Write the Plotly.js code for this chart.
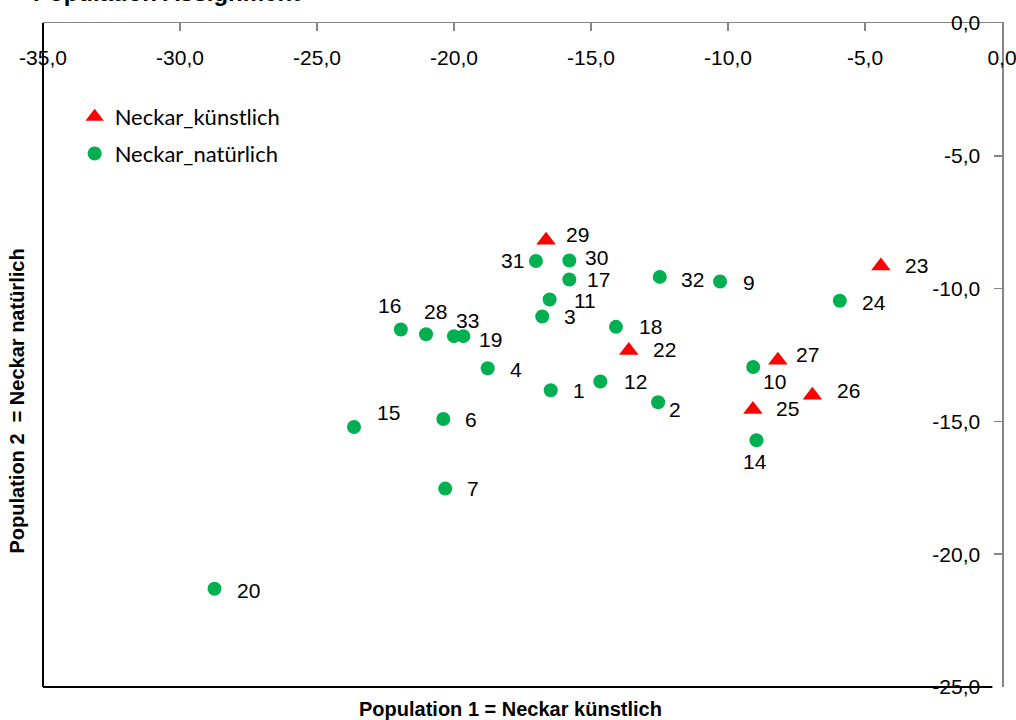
<!DOCTYPE html>
<html>
<head>
<meta charset="utf-8">
<script src="https://cdn.plot.ly/plotly-3.0.1.min.js"></script>
<style>html,body{margin:0;padding:0;background:#fff;}#chart{width:1016px;height:720px;}</style>
</head>
<body>
<div id="chart"></div>
<script>
// Series: Neckar_künstlich (red triangles)
const kuenstlichIds = [29, 22, 23, 27, 26, 25];
const kuenstlichX = [-16.64, -13.62, -4.42, -8.18, -6.92, -9.09];
const kuenstlichY = [-8.18, -12.33, -9.15, -12.70, -14.02, -14.55];

// Series: Neckar_natürlich (green circles)
const natuerlichIds = [1, 2, 3, 4, 6, 7, 9, 10, 11, 12, 14, 15, 16, 17, 18, 19, 20, 24, 28, 30, 31, 32, 33];
const natuerlichX = [-16.47, -12.55, -16.78, -18.77, -20.39, -20.32, -10.29, -9.08, -16.51, -14.66, -8.96, -23.65, -21.94, -15.79, -14.09, -19.66, -28.74, -5.92, -21.02, -15.79, -17.01, -12.49, -20.00];
const natuerlichY = [-13.83, -14.28, -11.05, -13.00, -14.91, -17.53, -9.73, -12.95, -10.41, -13.50, -15.71, -15.21, -11.54, -9.66, -11.44, -11.79, -21.30, -10.46, -11.72, -8.94, -8.96, -9.56, -11.79];

// Tick values and labels
const xTickVals = [-35, -30, -25, -20, -15, -10, -5, 0];
const xTickText = ['-35,0', '-30,0', '-25,0', '-20,0', '-15,0', '-10,0', '-5,0', '0,0'];
const yTickVals = [-25, -20, -15, -10, -5, 0];
const yTickText = ['-25,0', '-20,0', '-15,0', '-10,0', '-5,0', '0,0'];

// Label placement offsets (pixels, dx right / dy down) per point label
const kuenstlichLabelDx = [31, 36, 36, 30, 36, 35];
const kuenstlichLabelDy = [-6, -1, -1, -6, -5, -1];
const natuerlichLabelDx = [28, 17, 28, 28, 28, 28, 29, 21, 35, 35, -2, 35, -11, 29, 35, 27, 34, 34, 9, 27, -23, 33, 13];
const natuerlichLabelDy = [0, 7, 0, 1, 0, 0, 1, 15, 1, 0, 21, -14, -24, 0, 0, 3, 2, 2, -23, -3, 0, 3, -16];

const tickFont = {family: 'Liberation Sans, Arial, sans-serif', size: 21, color: '#000'};
const labelFont = {family: 'Liberation Sans, Arial, sans-serif', size: 21, color: '#000'};
const titleFont = {family: 'Liberation Sans, Arial, sans-serif', size: 20, color: '#000', weight: 'bold'};

const traces = [
  {
    type: 'scatter', mode: 'markers', name: 'Neckar_künstlich', legendgroup: 'a',
    x: kuenstlichX, y: kuenstlichY, text: kuenstlichIds.map(String),
    marker: {symbol: 'triangle-up', size: 17, color: '#FF0000'}
  },
  {
    type: 'scatter', mode: 'markers', name: 'Neckar_natürlich', legendgroup: 'b',
    x: natuerlichX, y: natuerlichY, text: natuerlichIds.map(String),
    marker: {symbol: 'circle', size: 14, color: '#00B050'}
  }
];

const annotations = [];
function addLabels(ids, xs, ys, dxs, dys) {
  ids.forEach((id, i) => {
    annotations.push({
      x: xs[i], y: ys[i], xref: 'x', yref: 'y', text: String(id), showarrow: false,
      xanchor: 'center', yanchor: 'middle', xshift: dxs[i], yshift: -dys[i], font: labelFont
    });
  });
}
addLabels(kuenstlichIds, kuenstlichX, kuenstlichY, kuenstlichLabelDx, kuenstlichLabelDy);
addLabels(natuerlichIds, natuerlichX, natuerlichY, natuerlichLabelDx, natuerlichLabelDy);

// Axis titles and chart title
annotations.push({
  text: 'Population 1 = Neckar künstlich', xref: 'paper', yref: 'paper', x: 0.487, y: 0,
  xanchor: 'center', yanchor: 'top', yshift: -9, showarrow: false, font: titleFont
});
annotations.push({
  text: 'Population 2  = Neckar natürlich', xref: 'paper', yref: 'paper', x: 0, y: 0.43,
  xanchor: 'center', yanchor: 'middle', xshift: -26, textangle: -90, showarrow: false, font: titleFont
});
annotations.push({
  text: 'Population Assignment', xref: 'paper', yref: 'paper', x: 0, y: 1,
  xanchor: 'left', yanchor: 'bottom', xshift: -12, yshift: 15, showarrow: false,
  font: {family: 'Liberation Sans, Arial, sans-serif', size: 24, color: '#000', weight: 'bold'}
});

const axisCommon = {
  showline: true, linecolor: '#868686', linewidth: 1.5,
  ticks: 'inside', ticklen: 8, tickwidth: 1.5, tickcolor: '#868686',
  showgrid: false, zeroline: false, tickmode: 'array',
  tickfont: tickFont, ticklabelposition: 'inside', ticklabeloverflow: 'allow', fixedrange: true
};

const layout = {
  width: 1016, height: 720,
  margin: {l: 43, r: 14, t: 23, b: 33, pad: 0},
  paper_bgcolor: '#ffffff', plot_bgcolor: 'rgba(0,0,0,0)',
  separators: ',.',
  showlegend: true,
  legend: {
    x: 0.033, y: 0.89, xanchor: 'left', yanchor: 'top',
    font: {family: 'Lato, Carlito, Calibri, sans-serif', size: 22, color: '#000'},
    bgcolor: 'rgba(0,0,0,0)', borderwidth: 0, traceorder: 'grouped', tracegroupgap: 5,
    itemwidth: 30
  },
  xaxis: Object.assign({}, axisCommon, {range: [-35, 0], side: 'top', tickvals: xTickVals, ticktext: xTickText, ticklabelstandoff: 21}),
  yaxis: Object.assign({}, axisCommon, {range: [-25, 0], side: 'right', tickvals: yTickVals, ticktext: yTickText, ticklabelstandoff: 15}),
  shapes: [
    {type: 'line', xref: 'paper', yref: 'paper', x0: 0, x1: 0, y0: 0, y1: 1, line: {color: '#000', width: 2}, layer: 'below'},
    {type: 'line', xref: 'paper', yref: 'paper', x0: 0, x1: 0.99, y0: 0, y1: 0, line: {color: '#000', width: 2}, layer: 'below'}
  ],
  annotations: annotations
};

Plotly.newPlot('chart', traces, layout, {displayModeBar: false, staticPlot: true});
</script>
</body>
</html>
